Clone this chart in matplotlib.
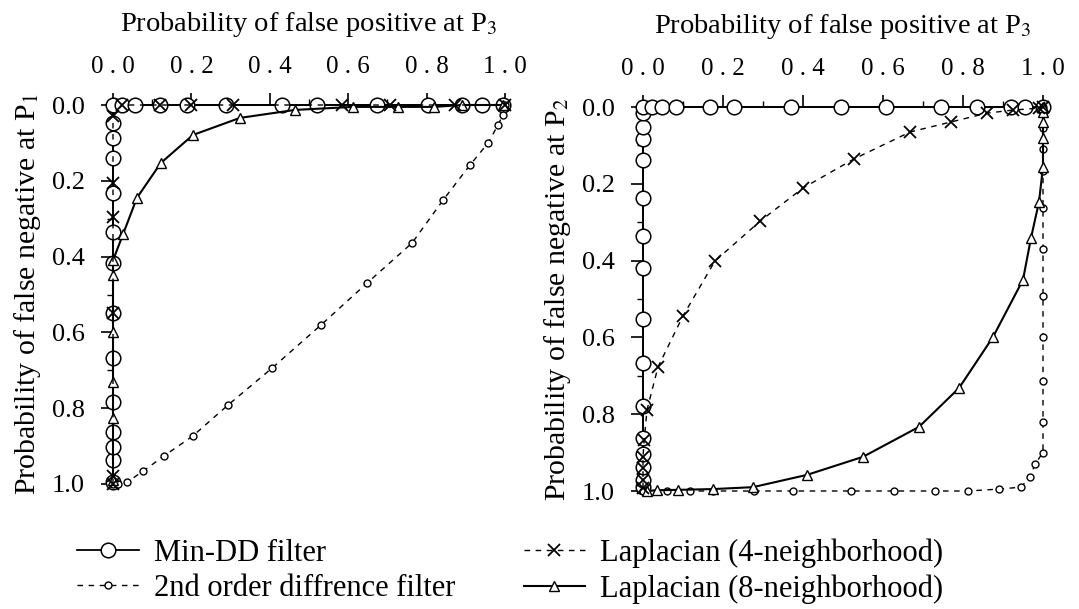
import numpy as np
import matplotlib
matplotlib.use("Agg")
import matplotlib.pyplot as plt
from matplotlib.ticker import MultipleLocator

plt.rcParams['font.family'] = ['Liberation Serif', 'DejaVu Serif']
plt.rcParams['mathtext.fontset'] = 'stix'

# ---- data (x = P(false positive at P3), y = P(false negative)) ----
# left panel (P1)
mindd_l_x = [0, 0, 0, 0, 0, 0, 0, 0, 0, 0, 0, 0, 0, 0,
             0.023, 0.056, 0.12, 0.189, 0.288, 0.431, 0.52, 0.673, 0.804, 0.89, 0.941, 0.995]
mindd_l_y = [0.995, 0.937, 0.902, 0.863, 0.784, 0.668, 0.549, 0.417, 0.335, 0.232, 0.14, 0.087, 0.047, 0,
             0, 0, 0, 0, 0, 0, 0, 0, 0, 0, 0, 0]

so2_l_x = [0, 0.013, 0.036, 0.077, 0.130, 0.204, 0.293, 0.406, 0.531, 0.648, 0.763,
           0.842, 0.911, 0.957, 0.982, 0.995, 1.0]
so2_l_y = [1.0, 1.0, 0.995, 0.966, 0.926, 0.873, 0.792, 0.694, 0.580, 0.470, 0.364,
           0.251, 0.158, 0.10, 0.053, 0.026, 0.0]

lap4_l_x = [0, 0, 0, 0, 0, 0, 0.023, 0.12, 0.2, 0.306, 0.584, 0.707, 0.872, 1.0]
lap4_l_y = [1.0, 0.98, 0.55, 0.295, 0.206, 0.03, 0, 0, 0, 0, 0, 0, 0, 0]

lap8_l_x = [0, 0, 0, 0, 0, 0, 0.026, 0.061, 0.122, 0.204, 0.324, 0.464, 0.612, 0.727, 0.82, 0.89, 0.995]
lap8_l_y = [0.989, 0.826, 0.731, 0.599, 0.449, 0.41, 0.34, 0.245, 0.153, 0.079, 0.034, 0.013,
            0.005, 0.005, 0.005, 0.0, 0.0]

# right panel (P2)
mindd_r_x = [0, 0, 0, 0, 0, 0, 0, 0, 0, 0, 0, 0, 0, 0, 0, 0,
             0.0225, 0.0475, 0.0825, 0.1675, 0.2275, 0.37, 0.495, 0.6075, 0.745, 0.835, 0.92, 0.955, 1.0]
mindd_r_y = [0.990, 0.971, 0.938, 0.904, 0.862, 0.779, 0.667, 0.552, 0.419, 0.336, 0.237, 0.138,
             0.083, 0.052, 0.016, 0,
             0, 0, 0, 0, 0, 0, 0, 0, 0, 0, 0, 0, 0]

so2_r_x = [0, 0.06, 0.1175, 0.175, 0.278, 0.375, 0.52, 0.628, 0.73, 0.8125, 0.89, 0.945, 0.968,
           0.98, 1.0, 1.0, 1.0, 1.0, 1.0, 1.0, 1.0, 1.0, 1.0, 1.0, 1.0]
so2_r_y = [1.0, 1.0, 1.0, 1.0, 1.0, 1.0, 1.0, 1.0, 1.0, 1.0, 0.995, 0.99, 0.963,
           0.93, 0.90, 0.82, 0.713, 0.599, 0.492, 0.37, 0.263, 0.167, 0.109, 0.055, 0.0]

lap4_r_x = [0, 0, 0, 0, 0.003, 0.01, 0.0375, 0.10, 0.18, 0.293, 0.40, 0.528, 0.668, 0.77,
            0.86, 0.925, 0.99, 1.0]
lap4_r_y = [0.992, 0.971, 0.94, 0.911, 0.867, 0.789, 0.677, 0.544, 0.401, 0.297, 0.211, 0.135,
            0.065, 0.039, 0.016, 0.008, 0.003, 0.0]

lap8_r_x = [0.01, 0.035, 0.0875, 0.175, 0.275, 0.41, 0.55, 0.69, 0.79, 0.875, 0.95, 0.97,
            0.99, 1.0, 1.0, 1.0, 1.0, 1.0]
lap8_r_y = [1.0, 0.998, 0.997, 0.995, 0.99, 0.958, 0.911, 0.833, 0.732, 0.599, 0.45, 0.341,
            0.247, 0.156, 0.08, 0.04, 0.013, 0.0]

x_ticks = [0.0, 0.2, 0.4, 0.6, 0.8, 1.0]
x_ticklabels = ['0 . 0', '0 . 2', '0 . 4', '0 . 6', '0 . 8', '1 . 0']
y_ticks = [0.0, 0.2, 0.4, 0.6, 0.8, 1.0]
y_ticklabels = ['0.0', '0.2', '0.4', '0.6', '0.8', '1.0']

labels = ['Min-DD filter', '2nd order diffrence filter',
          'Laplacian (4-neighborhood)', 'Laplacian (8-neighborhood)']

fig = plt.figure(figsize=(10.79, 6.09), dpi=100)
ax1 = fig.add_axes([113/1079, 1 - 484/609, 392/1079, 379/609])
ax2 = fig.add_axes([643/1079, 1 - 491/609, 400/1079, 384/609])


def draw(ax, data, ylab):
    (mx, my), (sx, sy), (l4x, l4y), (l8x, l8y) = data
    h = []
    h += ax.plot(mx, my, '-', color='k', lw=1.3, marker='o', ms=10.5, mfc='white',
                 mec='k', mew=1.1, clip_on=False, zorder=3)
    h += ax.plot(sx, sy, color='k', lw=1.0, ls=(0, (4, 4)), marker='o', ms=5, mfc='white',
                 mec='k', mew=1.0, clip_on=False, zorder=4)
    h += ax.plot(l4x, l4y, color='k', lw=1.0, ls=(0, (4, 4)), marker='x', ms=8,
                 mew=1.3, clip_on=False, zorder=5)
    h += ax.plot(l8x, l8y, '-', color='k', lw=1.5, marker='^', ms=7, mfc='white',
                 mec='k', mew=1.0, clip_on=False, zorder=4)

    ax.set_xlim(0, 1)
    ax.set_ylim(1, 0)
    for s in ['right', 'bottom']:
        ax.spines[s].set_visible(False)
    for s in ['top', 'left']:
        ax.spines[s].set_linewidth(1.3)
    ax.xaxis.tick_top()
    ax.xaxis.set_label_position('top')
    ax.set_xticks(x_ticks)
    ax.set_xticklabels(x_ticklabels, fontsize=18)
    ax.set_yticks(y_ticks)
    ax.set_yticklabels(y_ticklabels, fontsize=19)
    ax.xaxis.set_minor_locator(MultipleLocator(0.1))
    ax.yaxis.set_minor_locator(MultipleLocator(0.1))
    ax.tick_params(which='major', direction='out', length=8.5, width=1.2)
    ax.tick_params(which='minor', direction='out', length=4.3, width=1.0)
    ax.tick_params(axis='x', which='major', pad=11)
    ax.tick_params(axis='y', which='major', pad=12)
    ax.set_xlabel('Probability of false positive at P$_3$', fontsize=20.5, labelpad=18)
    ax.set_ylabel(ylab, fontsize=21.5, labelpad=6)
    ax.patch.set_visible(False)
    return h


handles = draw(ax1, [(mindd_l_x, mindd_l_y), (so2_l_x, so2_l_y), (lap4_l_x, lap4_l_y),
                     (lap8_l_x, lap8_l_y)], 'Probability of false negative at P$_1$')
draw(ax2, [(mindd_r_x, mindd_r_y), (so2_r_x, so2_r_y), (lap4_r_x, lap4_r_y),
           (lap8_r_x, lap8_r_y)], 'Probability of false negative at P$_2$')

# legend order: col1 = Min-DD, 2nd order; col2 = Laplacian 4, Laplacian 8
fig.legend(handles, labels, ncol=2, loc='upper left', bbox_to_anchor=(56/1079, 1 - 517/609),
           frameon=False, fontsize=22, handlelength=2.0, handletextpad=0.5,
           columnspacing=2.25, labelspacing=0.2, borderpad=0.2)

fig.savefig('out.png', dpi=100)
